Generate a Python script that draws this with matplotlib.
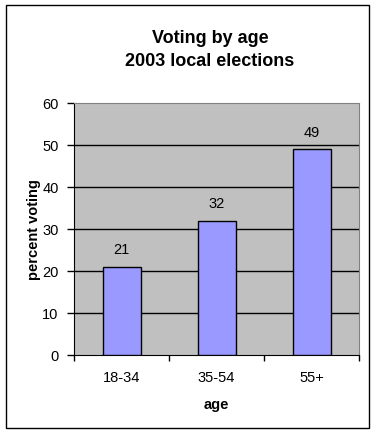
import matplotlib
matplotlib.use("Agg")
import matplotlib.pyplot as plt
from matplotlib.patches import Rectangle
import numpy as np

# data
ages = ["18-34", "35-54", "55+"]
pct_voting = [21, 32, 49]
yticks = [0, 10, 20, 30, 40, 50, 60]

plt.rcParams['font.family'] = ['Liberation Sans', 'DejaVu Sans']

W, H = 376, 435
fig = plt.figure(figsize=(W / 100, H / 100), dpi=100)
fig.patch.set_facecolor("white")

# outer chart border
fig.patches.append(Rectangle((6 / W, 6 / H), 363 / W, 423 / H, transform=fig.transFigure,
                             fill=False, edgecolor="black", linewidth=1))

ax = fig.add_axes([74 / W, 79 / H, 285 / W, 252 / H])
ax.set_facecolor("#C0C0C0")

x = np.arange(len(ages)) + 0.5
bars = ax.bar(x, pct_voting, width=0.4, color="#9999FF", edgecolor="black",
              linewidth=1, zorder=3)

# gridlines (top one is the plot border)
for yv in yticks[1:-1]:
    ax.axhline(yv, color="black", linewidth=1, zorder=1)

for b, v in zip(bars, pct_voting):
    ax.annotate(str(v), (b.get_x() + b.get_width() / 2, v), xytext=(0, 7.5),
                textcoords="offset points", ha="center", va="bottom", fontsize=10.5)

ax.set_xlim(0, len(ages))
ax.set_ylim(0, 60)
ax.set_yticks(yticks)
ax.set_xticks(np.arange(len(ages) + 1))
ax.set_xticklabels([])
ax.set_xticks(x, minor=True)
ax.set_xticklabels(ages, minor=True, fontsize=10.5)
ax.tick_params(axis="x", which="minor", length=0, pad=11)
ax.tick_params(axis="x", which="major", length=4, width=1, direction="out")
ax.tick_params(axis="y", length=5, width=1, direction="out", pad=6, labelsize=10.5)

for s in ["left", "bottom"]:
    ax.spines[s].set_color("black")
for s in ["top", "right"]:
    ax.spines[s].set_color("#808080")

ax.set_xlabel("age", fontsize=10.5, fontweight="bold", labelpad=9)
ax.set_ylabel("percent voting", fontsize=10.5, fontweight="bold", labelpad=1)

fig.text(210 / W, 1 - 50 / H, "Voting by age\n2003 local elections", ha="center",
         va="center", fontsize=13, fontweight="bold", linespacing=1.4)

fig.savefig("out.png", dpi=100)
